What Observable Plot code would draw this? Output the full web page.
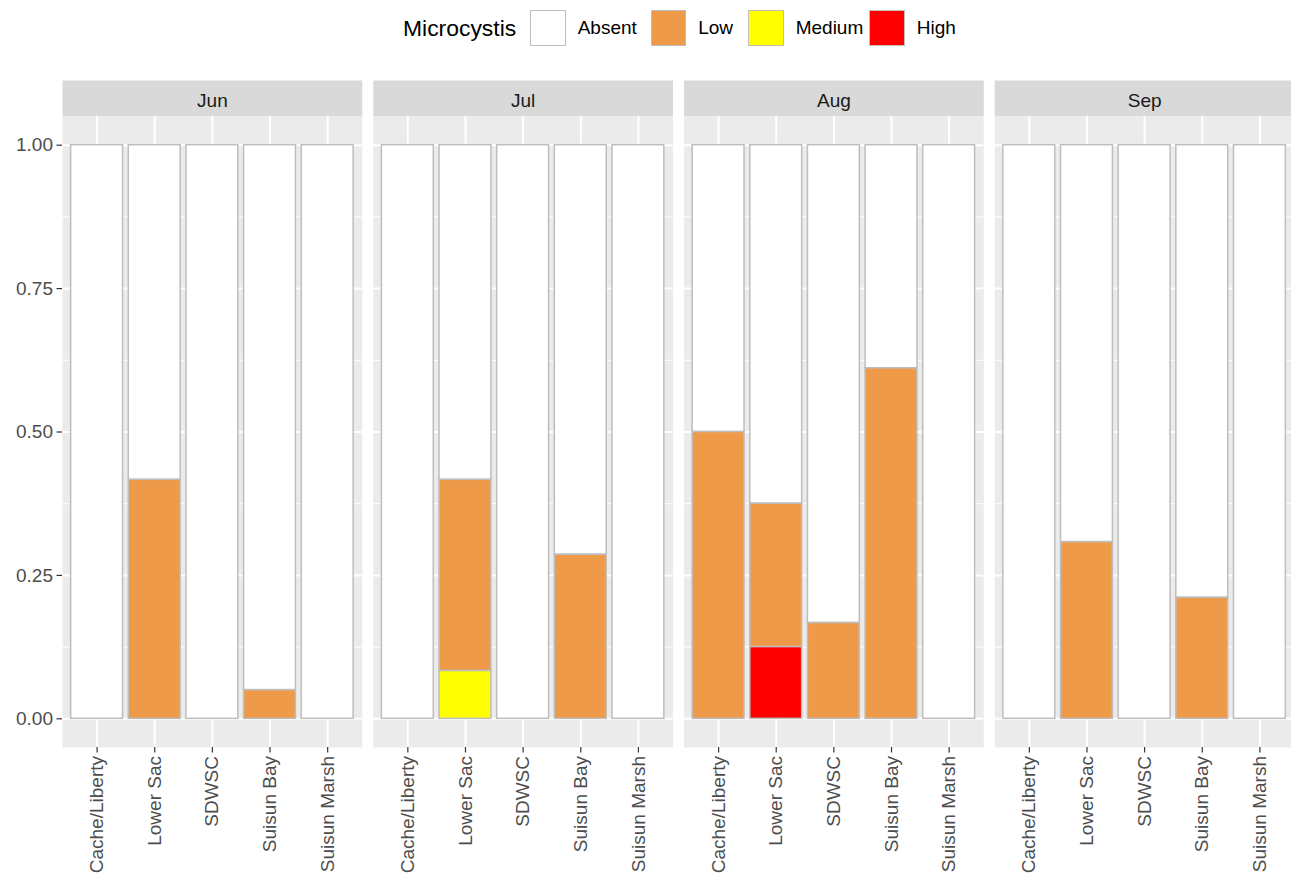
<!DOCTYPE html>
<html>
<head>
<meta charset="utf-8">
<script src="https://cdn.jsdelivr.net/npm/d3@7"></script>
<script src="https://cdn.jsdelivr.net/npm/@observablehq/plot@0.6"></script>
<style>
  html, body { margin: 0; padding: 0; background: white; }
  body { width: 1291px; height: 876px; overflow: hidden; font-family: "Liberation Sans", Arial, sans-serif; }
  #legend { height: 60px; width: 1291px; display: flex; align-items: center; justify-content: flex-start; box-sizing: border-box; padding-left: 403px; padding-bottom: 4px; }
  #legend .title { font-size: 22.9px; color: #000; margin-right: 14px; white-space: nowrap; }
  #legend .key { width: 35.5px; height: 35.5px; box-sizing: border-box; border: 1.5px solid #BEBEBE; margin-right: 12px; flex: none; }
  #legend .lab { font-size: 19px; color: #000; white-space: nowrap; flex: none; }
</style>
</head>
<body>
<div id="legend"></div>
<div id="chart"></div>
<script>
const months = ["Jun", "Jul", "Aug", "Sep"];
const sites = ["Cache/Liberty", "Lower Sac", "SDWSC", "Suisun Bay", "Suisun Marsh"];
const levels = ["Absent", "Low", "Medium", "High"];
const levelColors = ["#FFFFFF", "#EE9A49", "#FFFF00", "#FF0000"];
const legendLabelWidths = [73, 50, 73.5, 40];
const yTicks = [0, 0.25, 0.5, 0.75, 1];
const yMinor = [0.125, 0.375, 0.625, 0.875];

// proportions: rows = months (Jun, Jul, Aug, Sep), columns = sites
const absent = [
  [1, 0.5834, 1, 0.95, 1],
  [1, 0.5834, 1, 0.714, 1],
  [0.5, 0.625, 0.833, 0.389, 1],
  [1, 0.692, 1, 0.789, 1]
];
const low = [
  [0, 0.4166, 0, 0.05, 0],
  [0, 0.3333, 0, 0.286, 0],
  [0.5, 0.25, 0.167, 0.611, 0],
  [0, 0.308, 0, 0.211, 0]
];
const medium = [
  [0, 0, 0, 0, 0],
  [0, 0.0833, 0, 0, 0],
  [0, 0, 0, 0, 0],
  [0, 0, 0, 0, 0]
];
const high = [
  [0, 0, 0, 0, 0],
  [0, 0, 0, 0, 0],
  [0, 0.125, 0, 0, 0],
  [0, 0, 0, 0, 0]
];

const series = {Absent: absent, Low: low, Medium: medium, High: high};
const data = [];
months.forEach((m, i) => sites.forEach((s, j) => levels.forEach(l => {
  const v = series[l][i][j];
  if (v > 0) data.push({month: m, site: s, level: l, value: v});
})));

// legend
const legend = document.getElementById("legend");
legend.innerHTML = `<span class="title">Microcystis</span>` +
  levels.map((l, i) => `<span class="key" style="background:${levelColors[i]}"></span><span class="lab" style="width:${legendLabelWidths[i]}px">${l}</span>`).join("");

const W = 1291, H = 816, mTop = 56, mBottom = 129, mLeft = 62, mRight = -3;
const panelH = H - mTop - mBottom;
const stripH = 36;

const chart = Plot.plot({
  width: W,
  height: H,
  marginTop: mTop,
  marginBottom: mBottom,
  marginLeft: mLeft,
  marginRight: mRight,
  style: {fontFamily: "'Liberation Sans', Arial, sans-serif", fontSize: "19px", color: "#4D4D4D", background: "white", overflow: "hidden"},
  fx: {domain: months, paddingInner: 0.0354, paddingOuter: 0, round: false, label: null},
  x: {domain: sites, paddingInner: 0.1, paddingOuter: 0.15, round: false, label: null},
  y: {domain: [-0.05, 1.05], label: null},
  color: {domain: levels, range: levelColors},
  marks: [
    Plot.frame({fill: "#D9D9D9", stroke: null, insetTop: -stripH, insetBottom: panelH}),
    Plot.frame({fill: "#EBEBEB", stroke: null}),
    Plot.gridY(yMinor, {stroke: "white", strokeOpacity: 1, strokeWidth: 1}),
    Plot.gridY(yTicks, {stroke: "white", strokeOpacity: 1, strokeWidth: 2}),
    Plot.gridX(sites, {stroke: "white", strokeOpacity: 1, strokeWidth: 2}),
    Plot.barY(data, {
      fx: "month", x: "site", y: "value", fill: "level",
      order: ["High", "Medium", "Low", "Absent"],
      stroke: "#BEBEBE", strokeWidth: 1.5
    }),
    Plot.axisFx({anchor: "top", tickSize: 0, tickPadding: 10, label: null, fill: "#1A1A1A"}),
    Plot.axisY(yTicks, {tickFormat: d3.format(".2f"), tickSize: 5.5, tickPadding: 4, stroke: "#333333", strokeWidth: 1.2, label: null, fill: "#4D4D4D"}),
    Plot.axisX({tickRotate: -90, tickSize: 5.5, tickPadding: 3, stroke: "#333333", strokeWidth: 1.2, label: null, fill: "#4D4D4D"})
  ]
});
document.getElementById("chart").appendChild(chart);
</script>
</body>
</html>
